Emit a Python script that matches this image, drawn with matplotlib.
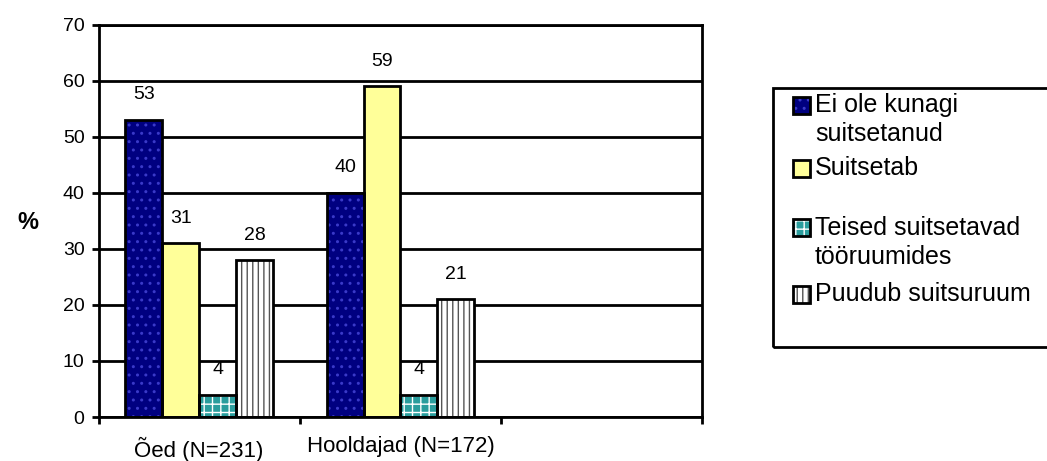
import matplotlib
matplotlib.use("Agg")
import matplotlib.pyplot as plt
from matplotlib.patches import Rectangle
import numpy as np

plt.rcParams['font.family'] = ['Liberation Sans', 'DejaVu Sans']
plt.rcParams['hatch.linewidth'] = 1.0

# Data
categories = ["Õed (N=231)", "Hooldajad (N=172)", ""]
series_names = ["Ei ole kunagi\nsuitsetanud", "Suitsetab",
                "Teised suitsetavad\ntööruumides", "Puudub suitsuruum"]
values = {
    "Ei ole kunagi\nsuitsetanud": [53, 40],
    "Suitsetab": [31, 59],
    "Teised suitsetavad\ntööruumides": [4, 4],
    "Puudub suitsuruum": [28, 21],
}
y_ticks = [0, 10, 20, 30, 40, 50, 60, 70]

# Bar styles: (face colour, hatch, hatch colour)
styles = [
    ("#000080", "..", "#3a3ac8"),
    ("#FFFF99", None, "#FFFF99"),
    ("#2a9d9d", "++", "#ffffff"),
    ("#ffffff", "|||", "#555555"),
]

W, H = 1047, 461
LW = 2.0
fig = plt.figure(figsize=(W / 100, H / 100), dpi=100)


def fx(px):
    return px / W


def fy(py):
    return 1 - py / H


ax = fig.add_axes([fx(98.5), fy(417), fx(702.3) - fx(98.5), fy(24.7) - fy(417)])

bar_w = 0.183
start = 0.134
n_groups = 2
x = np.arange(n_groups)
for i, name in enumerate(series_names):
    face, hatch, hcol = styles[i]
    pos = x + start + bar_w * (i + 0.5)
    vals = values[name]
    ax.bar(pos, vals, width=bar_w, color=face, hatch=hatch,
           edgecolor=hcol, linewidth=0, zorder=2)
    ax.bar(pos, vals, width=bar_w, fill=False, edgecolor="black",
           linewidth=LW, zorder=3)
    for xp, v in zip(pos, vals):
        ax.annotate(str(v), (xp, v), xytext=(0, 18), textcoords="offset points",
                    ha="center", va="center", fontsize=14)

ax.set_xlim(0, len(categories))
ax.set_ylim(0, 70)
ax.set_yticks(y_ticks)
ax.tick_params(axis="y", direction="out", length=5, width=LW, labelsize=14, pad=5)
ax.yaxis.grid(True, color="black", linewidth=LW)
ax.set_axisbelow(True)

ax.set_xticks(np.arange(len(categories) + 1))
ax.set_xticklabels([])
ax.tick_params(axis="x", which="major", direction="out", length=5, width=LW)
ax.set_xticks(np.arange(len(categories)) + 0.5, minor=True)
ax.set_xticklabels(categories, minor=True, fontsize=16)
ax.tick_params(axis="x", which="minor", length=0, pad=14)

for sp in ax.spines.values():
    sp.set_linewidth(LW)
    sp.set_color("black")

fig.text(fx(28), fy(222), "%", fontsize=17, fontweight="bold",
         ha="center", va="center")

# Legend drawn as a framed box on the right
fig.add_artist(Rectangle((fx(773), fy(347)), fx(1060) - fx(773), fy(88) - fy(347),
                         transform=fig.transFigure, fill=False,
                         edgecolor="black", linewidth=LW, clip_on=False))
entry_y = [105, 168, 228, 294]
for i, name in enumerate(series_names):
    face, hatch, hcol = styles[i]
    cy = entry_y[i]
    rect_args = ((fx(793), fy(cy + 8.5)), fx(810) - fx(793), fy(cy - 8.5) - fy(cy + 8.5))
    fig.add_artist(Rectangle(*rect_args, transform=fig.transFigure,
                             facecolor=face, hatch=hatch, edgecolor=hcol, linewidth=0))
    fig.add_artist(Rectangle(*rect_args, transform=fig.transFigure,
                             fill=False, edgecolor="black", linewidth=LW))
    lines = name.split("\n")
    for k, line in enumerate(lines):
        fig.text(fx(815), fy(cy + k * 29), line, fontsize=18,
                 ha="left", va="center")

fig.savefig("out.png", dpi=100)
